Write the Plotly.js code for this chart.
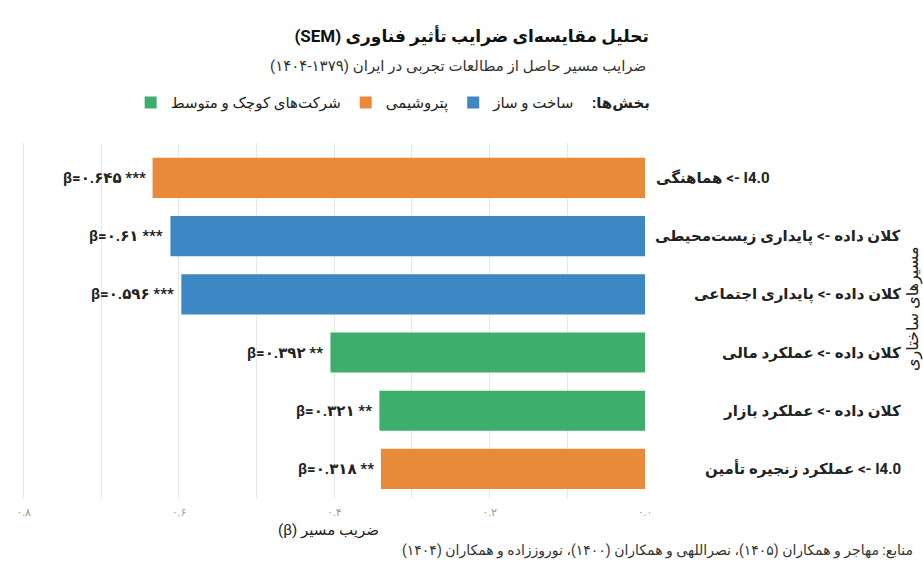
<!DOCTYPE html>
<html>
<head>
<meta charset="utf-8">
<script src="https://cdn.plot.ly/plotly-3.0.1.min.js"></script>
<style>
  html, body { margin: 0; padding: 0; background: #fff; }
  #chart { width: 923px; height: 565px; }
</style>
</head>
<body>
<div id="chart"></div>
<script>
// SEM path coefficients by sector (top to bottom)
const paths = [
  'I4.0 -> هماهنگی',
  'کلان داده -> پایداری زیست‌محیطی',
  'کلان داده -> پایداری اجتماعی',
  'کلان داده -> عملکرد مالی',
  'کلان داده -> عملکرد بازار',
  'I4.0 -> عملکرد زنجیره تأمین'
];
// bar lengths as drawn in the picture
const barLength = [0.634, 0.611, 0.597, 0.405, 0.342, 0.340];
const betaText = ['β=۰.۶۴۵ ***', 'β=۰.۶۱ ***', 'β=۰.۵۹۶ ***', 'β=۰.۳۹۲ **', 'β=۰.۳۲۱ **', 'β=۰.۳۱۸ **'];
const pathSector = ['petro', 'build', 'build', 'sme', 'sme', 'petro'];

// legend order, left to right
const sectorKeys = ['sme', 'petro', 'build'];
const sectorNames = { sme: 'شرکت‌های کوچک و متوسط', petro: 'پتروشیمی', build: 'ساخت و ساز' };
const sectorColors = { sme: '#3DAE6B', petro: '#E98A3B', build: '#3E87C5' };

const tickVals = [0.8, 0.6, 0.4, 0.2, 0];
const tickText = ['۰.۸', '۰.۶', '۰.۴', '۰.۲', '۰.۰'];

const FONT = 'Roboto, "DejaVu Sans", sans-serif';
const rtl = s => '\u202B' + s + '\u202C';

const traces = sectorKeys.map(key => {
  const idx = paths.map((_, i) => i).filter(i => pathSector[i] === key);
  return {
    type: 'bar',
    orientation: 'h',
    name: rtl(sectorNames[key]),
    x: idx.map(i => barLength[i]),
    y: idx.map(i => paths[i]),
    width: 0.69,
    marker: { color: sectorColors[key] },
    hoverinfo: 'skip'
  };
});

const annotations = [];

// value labels left of each bar
paths.forEach((p, i) => {
  annotations.push({
    x: barLength[i], y: p, xref: 'x', yref: 'y',
    text: '<b>' + betaText[i] + '</b>',
    showarrow: false, xanchor: 'right', xshift: -5,
    font: { family: FONT, size: 15, color: '#222' }
  });
});

// category labels on the right
paths.forEach((p, i) => {
  annotations.push({
    x: 1, y: p, xref: 'paper', yref: 'y',
    text: '<b>' + rtl(p) + '</b>',
    showarrow: false,
    xanchor: i === 0 ? 'left' : 'right',
    xshift: i === 0 ? 9 : 258,
    font: { family: FONT, size: 15, color: '#222' }
  });
});

annotations.push(
  { // subtitle
    x: 1.005, y: 1.217, xref: 'paper', yref: 'paper',
    text: rtl('ضرایب مسیر حاصل از مطالعات تجربی در ایران (۱۳۷۹\u200F-۱۴۰۴)'),
    showarrow: false, xanchor: 'right', yanchor: 'middle',
    font: { family: FONT, size: 15, color: '#333' }
  },
  { // legend heading
    x: 1.011, y: 1.113, xref: 'paper', yref: 'paper',
    text: '<b>' + rtl('بخش‌ها:') + '</b>',
    showarrow: false, xanchor: 'right', yanchor: 'middle',
    font: { family: FONT, size: 15, color: '#222' }
  },
  { // y axis title
    x: 1.423, y: 0.532, xref: 'paper', yref: 'paper',
    text: rtl('مسیرهای ساختاری'), textangle: -90,
    showarrow: false, xanchor: 'center', yanchor: 'middle',
    font: { family: FONT, size: 16, color: '#222' }
  },
  { // sources
    x: 1.4265, y: -0.149, xref: 'paper', yref: 'paper',
    text: rtl('منابع: مهاجر و همکاران (۱۴۰۵)، نصراللهی و همکاران (۱۴۰۰)، نوروززاده و همکاران (۱۴۰۴)'),
    showarrow: false, xanchor: 'right', yanchor: 'middle',
    font: { family: FONT, size: 14, color: '#333' }
  }
);

const layout = {
  width: 923, height: 565,
  margin: { l: 12, r: 278, t: 143, b: 67 },
  paper_bgcolor: '#fff', plot_bgcolor: '#fff',
  barmode: 'overlay',
  font: { family: FONT, color: '#222' },
  title: {
    text: '<b>' + rtl('تحلیل مقایسه‌ای ضرایب تأثیر فناوری (SEM)') + '</b>',
    xref: 'container', x: 0.703, xanchor: 'right',
    yref: 'container', y: 0.936, yanchor: 'middle',
    font: { family: FONT, size: 17, color: '#111' }
  },
  xaxis: {
    range: [0.815, 0],
    tickmode: 'array', tickvals: tickVals, ticktext: tickText,
    tickfont: { family: FONT, size: 11, color: '#999' },
    ticklabelstandoff: 6,
    showgrid: true, gridcolor: '#e8e8e8', gridwidth: 1,
    minor: { tickmode: 'array', tickvals: [0.7, 0.5, 0.3, 0.1], showgrid: true, gridcolor: '#e8e8e8', gridwidth: 1 },
    zeroline: false, showline: false, ticks: '',
    title: { text: rtl('ضریب مسیر (β)'), standoff: 6, font: { family: FONT, size: 15, color: '#222' } }
  },
  yaxis: {
    type: 'category',
    categoryorder: 'array', categoryarray: paths,
    range: [5.5, -0.6],
    showticklabels: false, showgrid: false, zeroline: false, ticks: ''
  },
  showlegend: true,
  legend: {
    orientation: 'h',
    xref: 'container', x: 0.628, xanchor: 'right',
    yref: 'container', y: 0.818, yanchor: 'middle',
    font: { family: FONT, size: 15, color: '#222' },
    bgcolor: 'rgba(0,0,0,0)', itemclick: false
  },
  annotations: annotations
};

Plotly.newPlot('chart', traces, layout, { displayModeBar: false, staticPlot: true });
</script>
</body>
</html>
